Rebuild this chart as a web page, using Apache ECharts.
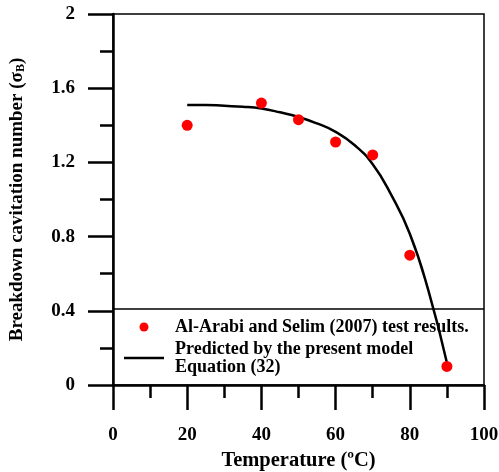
<!DOCTYPE html>
<html>
<head>
<meta charset="utf-8">
<script src="https://cdn.jsdelivr.net/npm/echarts@6/dist/echarts.min.js"></script>
<style>
  html, body { margin: 0; padding: 0; background: #fff; }
  #chart { width: 499px; height: 472px; }
</style>
</head>
<body>
<div id="chart"></div>
<script>
// Measured breakdown cavitation number vs. water temperature
const testTemps = [20, 40, 50, 60, 70, 80, 90];
const testSigma = [1.40, 1.52, 1.43, 1.31, 1.24, 0.70, 0.10];

// Model prediction, Equation (32), sampled every 5 ºC
const modelTemps = [20, 25, 30, 35, 40, 45, 50, 55, 60, 65, 70, 75, 80, 85, 90];
const modelSigma = [1.51, 1.51, 1.505, 1.50, 1.49, 1.47, 1.445, 1.41, 1.365, 1.295, 1.19, 1.025, 0.815, 0.51, 0.12];

const xTicks = [0, 20, 40, 60, 80, 100];
const yTicks = [0, 0.4, 0.8, 1.2, 1.6, 2];

const serif = '"Liberation Serif", "Times New Roman", serif';

const chart = echarts.init(document.getElementById('chart'));
chart.setOption({
  animation: false,
  grid: {
    left: 113, right: 15, top: 14, bottom: 87,
    outerBoundsMode: 'none', containLabel: false,
    show: true, borderColor: '#000', borderWidth: 1.5, backgroundColor: 'transparent'
  },
  xAxis: {
    type: 'value', min: xTicks[0], max: xTicks[xTicks.length - 1], interval: 20,
    name: 'Temperature (ºC)',
    nameLocation: 'middle', nameGap: 61,
    nameTextStyle: { fontFamily: serif, fontWeight: 'bold', fontSize: 20.5, color: '#000' },
    axisLine: { onZero: false, lineStyle: { color: '#000', width: 2.5 } },
    axisTick: { inside: false, length: 25, lineStyle: { color: '#000', width: 2.5 } },
    minorTick: { show: true, splitNumber: 2, length: 13, lineStyle: { color: '#000', width: 2.5 } },
    axisLabel: { margin: 41, fontFamily: serif, fontWeight: 'bold', fontSize: 19, color: '#000' },
    splitLine: { show: false }
  },
  yAxis: {
    type: 'value', min: yTicks[0], max: yTicks[yTicks.length - 1], interval: 0.4,
    name: 'Breakdown cavitation number (σ{sub|B})',
    nameLocation: 'middle', nameGap: 86, nameRotate: 90,
    nameTextStyle: {
      fontFamily: serif, fontWeight: 'bold', fontSize: 19, color: '#000',
      rich: { sub: { fontFamily: serif, fontWeight: 'bold', fontSize: 12, color: '#000', padding: [8, 0, 0, 0] } }
    },
    axisLine: { onZero: false, lineStyle: { color: '#000', width: 2.5 } },
    axisTick: { inside: false, length: 25, lineStyle: { color: '#000', width: 2.5 } },
    minorTick: { show: true, splitNumber: 2, length: 13, lineStyle: { color: '#000', width: 2.5 } },
    axisLabel: {
      margin: 38, fontFamily: serif, fontWeight: 'bold', fontSize: 19, color: '#000',
      formatter: v => String(Math.round(v * 10) / 10)
    },
    splitLine: { show: false }
  },
  graphic: [{
    type: 'line', silent: true, z: 5,
    shape: { x1: 113, y1: 309, x2: 484, y2: 309 },
    style: { stroke: '#000', lineWidth: 1.3 }
  }],
  legend: {
    orient: 'vertical', left: 124, top: 318, itemGap: 4, padding: 0,
    itemWidth: 40, itemHeight: 9,
    textStyle: {
      fontFamily: serif, fontWeight: 'bold', fontSize: 18, lineHeight: 18, color: '#000',
      padding: [0, 0, 0, 6]
    },
    data: [
      { name: 'Al-Arabi and Selim (2007) test results.', icon: 'circle' },
      { name: 'Predicted by the present model\nEquation (32)', icon: 'path://M0,0L40,0L40,2.5L0,2.5Z' }
    ]
  },
  series: [
    {
      name: 'Predicted by the present model\nEquation (32)',
      type: 'line', smooth: 0.5, symbol: 'none',
      data: modelTemps.map((t, i) => [t, modelSigma[i]]),
      lineStyle: { color: '#000', width: 2.5 },
      itemStyle: { color: '#000' },
      z: 3
    },
    {
      name: 'Al-Arabi and Selim (2007) test results.',
      type: 'scatter', symbol: 'circle', symbolSize: 11,
      data: testTemps.map((t, i) => [t, testSigma[i]]),
      itemStyle: { color: '#ff0000', opacity: 1 },
      z: 4
    }
  ]
});
</script>
</body>
</html>
